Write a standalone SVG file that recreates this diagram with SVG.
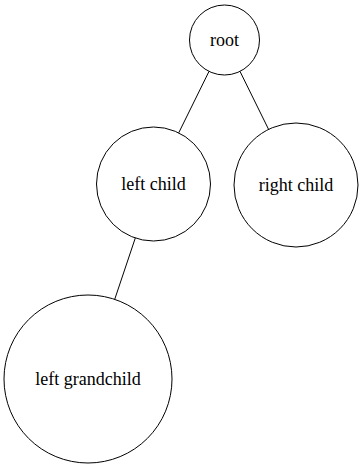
<svg xmlns="http://www.w3.org/2000/svg" width="364" height="467" viewBox="0 0 364 467">
<style>
.node circle{fill:none;stroke:#000;stroke-width:1}
.node text{font-family:"Liberation Serif","Times New Roman",serif;font-size:18px;text-anchor:middle;fill:#000}
.edges line{stroke:#000;stroke-width:1}
</style>
<rect width="364" height="467" fill="#fff"/>
<g class="edges" id="edges">
<line x1="209" y1="71.4" x2="178.7" y2="132.9"/>
<line x1="240" y1="71.4" x2="268.6" y2="129.4"/>
<line x1="135.3" y1="238" x2="114.7" y2="299.4"/>
</g>
<g class="node" id="root"><circle cx="224.5" cy="40" r="35"/><text x="224.5" y="45.5">root</text></g>
<g class="node" id="left_child"><circle cx="153.5" cy="184" r="57"/><text x="153.5" y="189.5">left child</text></g>
<g class="node" id="right_child"><circle cx="296" cy="185" r="62"/><text x="296" y="190.5">right child</text></g>
<g class="node" id="left_grandchild"><circle cx="88" cy="379" r="84"/><text x="88" y="384.5">left grandchild</text></g>
</svg>
